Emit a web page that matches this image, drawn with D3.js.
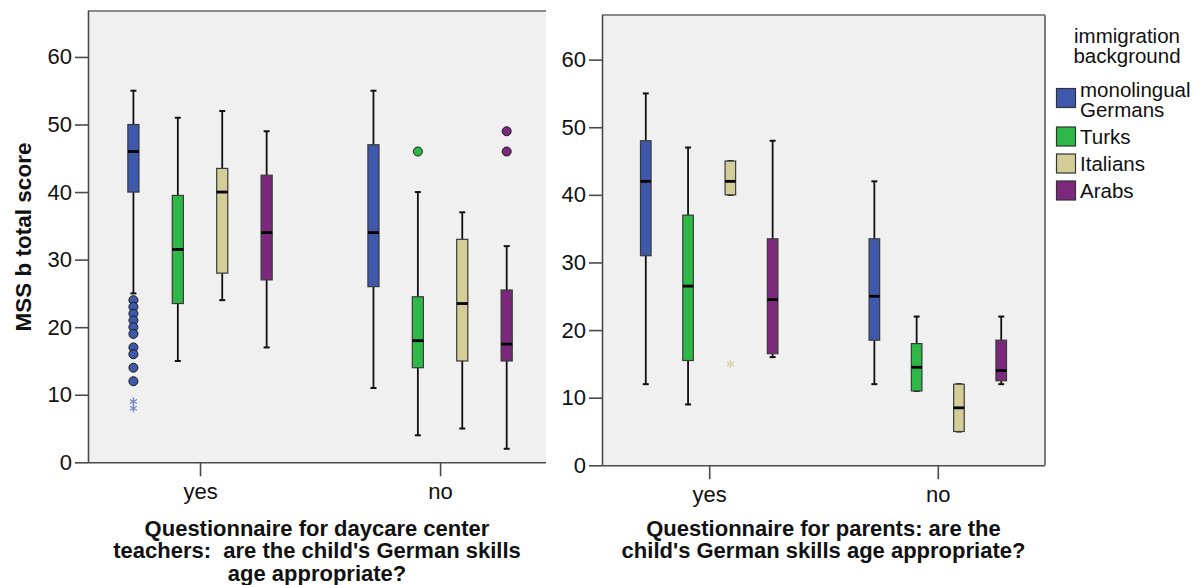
<!DOCTYPE html>
<html>
<head>
<meta charset="utf-8">
<script src="https://cdn.jsdelivr.net/npm/d3@7"></script>
<style>
  html, body { margin: 0; padding: 0; background: #ffffff; }
  svg { display: block; font-family: "Liberation Sans", Arial, Helvetica, sans-serif; }
</style>
</head>
<body>
<svg id="chart" width="1202" height="585"></svg>
<script>
// ---------------- DATA ----------------
const groups = ["yes", "no"];
const series = ["monolingual Germans", "Turks", "Italians", "Arabs"];
const seriesLabelLines = [["monolingual", "Germans"], ["Turks"], ["Italians"], ["Arabs"]];
const yTicks = [0, 10, 20, 30, 40, 50, 60];

// order: yes (Germans, Turks, Italians, Arabs), then no (Germans, Turks, Italians, Arabs)
const teacherMin    = [25, 15,   24, 17,   11, 4,    5,    2];
const teacherQ1     = [40, 23.5, 28, 27,   26, 14,   15,   15];
const teacherMedian = [46, 31.5, 40, 34,   34, 18,   23.5, 17.5];
const teacherQ3     = [50, 39.5, 43.5, 42.5, 47, 24.5, 33, 25.5];
const teacherMax    = [55, 51,   52, 49,   55, 40,   37,   32];
const teacherOutliers = [
  { group: "yes", series: "monolingual Germans", value: 24, kind: "circle" },
  { group: "yes", series: "monolingual Germans", value: 23, kind: "circle" },
  { group: "yes", series: "monolingual Germans", value: 22, kind: "circle" },
  { group: "yes", series: "monolingual Germans", value: 21, kind: "circle" },
  { group: "yes", series: "monolingual Germans", value: 20, kind: "circle" },
  { group: "yes", series: "monolingual Germans", value: 19, kind: "circle" },
  { group: "yes", series: "monolingual Germans", value: 17, kind: "circle" },
  { group: "yes", series: "monolingual Germans", value: 16, kind: "circle" },
  { group: "yes", series: "monolingual Germans", value: 14, kind: "circle" },
  { group: "yes", series: "monolingual Germans", value: 12, kind: "circle" },
  { group: "yes", series: "monolingual Germans", value: 9, kind: "star" },
  { group: "yes", series: "monolingual Germans", value: 8, kind: "star" },
  { group: "no", series: "Turks", value: 46, kind: "circle" },
  { group: "no", series: "Arabs", value: 49, kind: "circle" },
  { group: "no", series: "Arabs", value: 46, kind: "circle" }
];

const parentMin    = [12, 9,    40, 16,   12,   11,   5,   12];
const parentQ1     = [31, 15.5, 40, 16.5, 18.5, 11,   5,   12.5];
const parentMedian = [42, 26.5, 42, 24.5, 25,   14.5, 8.5, 14];
const parentQ3     = [48, 37,   45, 33.5, 33.5, 18,   12,  18.5];
const parentMax    = [55, 47,   45, 48,   42,   22,   12,  22];
const parentOutliers = [
  { group: "yes", series: "Italians", value: 15, kind: "star" }
];

const yLabel = "MSS b total score";
const teacherTitle = ["Questionnaire for daycare center", "teachers:  are the child's German skills", "age appropriate?"];
const parentTitle = ["Questionnaire for parents: are the", "child's German skills age appropriate?"];
const legendTitle = ["immigration", "background"];

// ---------------- STYLE ----------------
const fillColors = ["#3e58ac", "#2eb848", "#d3ce97", "#7c287d"];
const starColors = ["#6f84d0", "#2eb848", "#d8d3a6", "#7c287d"];
const color = d3.scaleOrdinal(series, fillColors);
const starColor = d3.scaleOrdinal(series, starColors);

const svg = d3.select("#chart");

function buildRows(mins, q1s, meds, q3s, maxs) {
  const rows = [];
  groups.forEach((g, gi) => {
    series.forEach((s, si) => {
      const i = gi * series.length + si;
      rows.push({ group: g, series: s, min: mins[i], q1: q1s[i], median: meds[i], q3: q3s[i], max: maxs[i] });
    });
  });
  return rows;
}

function drawPanel(cfg) {
  const { left, right, top, bottom, yMax, align, padding, rows, outliers, title, rightBorder } = cfg;
  const g = svg.append("g");

  const y = d3.scaleLinear().domain([0, yMax]).range([bottom, top]);
  const x0 = d3.scalePoint().domain(groups).range([left, right]).padding(padding).align(align);
  const step = x0.step();
  const x1 = d3.scaleBand().domain(series).range([-0.37 * step, 0.37 * step]).paddingInner(0).paddingOuter(0);
  const cx = (grp, s) => x0(grp) + x1(s) + x1.bandwidth() / 2;
  const bw = x1.bandwidth() * 0.25;

  // background
  g.append("rect").attr("x", left).attr("y", top).attr("width", right - left).attr("height", bottom - top)
    .attr("fill", "#f0f0f0");
  // top border
  g.append("line").attr("x1", left).attr("x2", right).attr("y1", top).attr("y2", top)
    .attr("stroke", "#8a8a8a").attr("stroke-width", 2);
  if (rightBorder) {
    g.append("line").attr("x1", right).attr("x2", right).attr("y1", top).attr("y2", bottom)
      .attr("stroke", "#7a7a7a").attr("stroke-width", 2);
  }

  // axes
  const yAxis = g.append("g").attr("transform", `translate(${left},0)`)
    .call(d3.axisLeft(y).tickValues(yTicks).tickFormat(d3.format("d")).tickSize(13).tickPadding(3));
  const xAxis = g.append("g").attr("transform", `translate(0,${bottom})`)
    .call(d3.axisBottom(x0).tickSize(14).tickPadding(7));
  [yAxis, xAxis].forEach(ax => {
    ax.select(".domain").attr("stroke", "#4a4a4a").attr("stroke-width", 1.6);
    ax.selectAll(".tick line").attr("stroke", "#4a4a4a").attr("stroke-width", 1.6);
    ax.selectAll(".tick text").attr("fill", "#111").style("font-size", "22px")
      .style("font-family", "'Liberation Sans', Arial, sans-serif");
  });
  yAxis.select(".domain").attr("d", `M0.5,${top}V${bottom}`);
  xAxis.select(".domain").attr("d", `M${left},0.5H${right}`);

  // boxes
  const box = g.append("g").selectAll("g").data(rows).join("g");
  // whiskers
  box.append("line").attr("x1", d => cx(d.group, d.series)).attr("x2", d => cx(d.group, d.series))
    .attr("y1", d => y(d.max)).attr("y2", d => y(d.q3)).attr("stroke", "#111").attr("stroke-width", 1.8);
  box.append("line").attr("x1", d => cx(d.group, d.series)).attr("x2", d => cx(d.group, d.series))
    .attr("y1", d => y(d.q1)).attr("y2", d => y(d.min)).attr("stroke", "#111").attr("stroke-width", 1.8);
  // caps
  box.append("line").attr("x1", d => cx(d.group, d.series) - 3).attr("x2", d => cx(d.group, d.series) + 3)
    .attr("y1", d => y(d.max)).attr("y2", d => y(d.max)).attr("stroke", "#111").attr("stroke-width", 2);
  box.append("line").attr("x1", d => cx(d.group, d.series) - 3).attr("x2", d => cx(d.group, d.series) + 3)
    .attr("y1", d => y(d.min)).attr("y2", d => y(d.min)).attr("stroke", "#111").attr("stroke-width", 2);
  // box
  box.append("rect").attr("x", d => cx(d.group, d.series) - bw / 2).attr("width", bw)
    .attr("y", d => y(d.q3)).attr("height", d => y(d.q1) - y(d.q3))
    .attr("fill", d => color(d.series)).attr("stroke", "#3a3a3a").attr("stroke-width", 1.2);
  // median
  box.append("line").attr("x1", d => cx(d.group, d.series) - bw / 2).attr("x2", d => cx(d.group, d.series) + bw / 2)
    .attr("y1", d => y(d.median)).attr("y2", d => y(d.median)).attr("stroke", "#000").attr("stroke-width", 2.8);

  // outliers
  const oc = outliers.filter(o => o.kind === "circle");
  g.append("g").selectAll("circle").data(oc).join("circle")
    .attr("cx", d => cx(d.group, d.series)).attr("cy", d => y(d.value)).attr("r", 4.5)
    .attr("fill", d => color(d.series)).attr("stroke", "#1a1a1a").attr("stroke-width", 1);
  const os = outliers.filter(o => o.kind === "star");
  g.append("g").selectAll("path").data(os).join("path")
    .attr("transform", d => `translate(${cx(d.group, d.series)},${y(d.value)})`)
    .attr("d", d3.symbol(d3.symbolAsterisk, 45))
    .attr("fill", "none").attr("stroke", d => starColor(d.series)).attr("stroke-width", 1.3);

  // x title
  const tcx = (left + right) / 2;
  const t = g.append("text").attr("text-anchor", "middle").attr("fill", "#111")
    .style("font-size", "22px").style("font-weight", "bold").style("white-space", "pre")
    .attr("xml:space", "preserve");
  title.forEach((line, i) => {
    t.append("tspan").attr("x", tcx).attr("y", 535.5 + i * 22.5).text(line);
  });
}

drawPanel({
  left: 88, right: 546, top: 11, bottom: 462.3, yMax: 66.8, align: 0.514, padding: 0.454,
  rows: buildRows(teacherMin, teacherQ1, teacherMedian, teacherQ3, teacherMax),
  outliers: teacherOutliers, title: teacherTitle, rightBorder: false
});
drawPanel({
  left: 602, right: 1045, top: 15, bottom: 465.3, yMax: 66.6, align: 0.5, padding: 0.469,
  rows: buildRows(parentMin, parentQ1, parentMedian, parentQ3, parentMax),
  outliers: parentOutliers, title: parentTitle, rightBorder: true
});

// y label
svg.append("text").attr("transform", "translate(31,237) rotate(-90)").attr("text-anchor", "middle")
  .attr("fill", "#111").style("font-size", "22.5px").style("font-weight", "bold").text(yLabel);

// legend
const lg = svg.append("g");
const lt = lg.append("text").attr("text-anchor", "middle").attr("fill", "#111").style("font-size", "20.5px");
legendTitle.forEach((line, i) => lt.append("tspan").attr("x", 1127).attr("y", 43 + i * 19.5).text(line));
let base = 97;
series.forEach((s, i) => {
  const lines = seriesLabelLines[i];
  const centerY = base - 7 + (lines.length - 1) * 8;
  lg.append("rect").attr("x", 1056.5).attr("y", centerY - 9.5).attr("width", 19).attr("height", 19)
    .attr("fill", color(s)).attr("stroke", "#333").attr("stroke-width", 1.2);
  const tx = lg.append("text").attr("fill", "#111").style("font-size", "20.5px");
  lines.forEach((ln, j) => tx.append("tspan").attr("x", 1080).attr("y", base + j * 19.5).text(ln));
  base += (lines.length - 1) * 19.5 + 27;
});
</script>
</body>
</html>
